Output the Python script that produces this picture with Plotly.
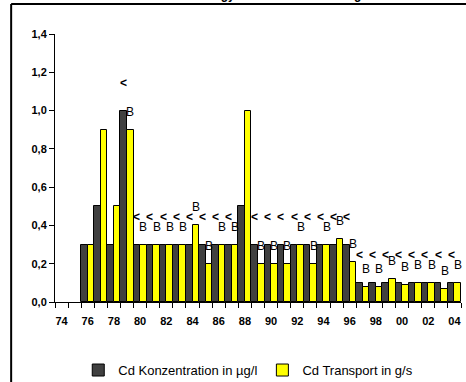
import plotly.graph_objects as go

# ---- data ----
years = list(range(1974, 2005))
year_labels = ["74", "76", "78", "80", "82", "84", "86", "88", "90", "92", "94", "96", "98", "00", "02", "04"]
label_years = list(range(1974, 2005, 2))

conc = [None, None, 0.3, 0.5, 0.3, 1.0, 0.3, 0.3, 0.3, 0.3, 0.3, 0.3, 0.3, 0.3, 0.5,
        0.3, 0.3, 0.3, 0.3, 0.3, 0.3, 0.3, 0.3, 0.1, 0.1, 0.1, 0.1, 0.1, 0.1, 0.1, 0.1]
transport = [None, None, 0.3, 0.9, 0.5, 0.9, 0.3, 0.3, 0.3, 0.3, 0.4, 0.2, 0.3, 0.3, 1.0,
             0.2, 0.2, 0.2, 0.3, 0.2, 0.3, 0.33, 0.21, 0.08, 0.08, 0.12, 0.09, 0.1, 0.1, 0.07, 0.1]
conc_flags = ["", "", "", "", "", "<", "<", "<", "<", "<", "<", "<", "<", "<", "",
              "<", "<", "<", "<", "<", "<", "<", "<", "<", "<", "<", "<", "<", "<", "<", "<"]
transport_flags = ["", "", "", "", "", "B", "B", "B", "B", "B", "B", "B", "B", "B", "",
                   "B", "B", "B", "B", "B", "B", "B", "B", "B", "B", "B", "B", "B", "B", "B", "B"]

series_names = ["Cd Konzentration in µg/l", "Cd Transport in g/s"]
title_text = "Donau bei Nagymaros – Cd Belastung"

FONT = "Liberation Sans, Arial, sans-serif"

fig = go.Figure()
fig.add_trace(go.Bar(x=years, y=conc, name=series_names[0],
                     marker=dict(color="#404040", line=dict(color="black", width=1))))
fig.add_trace(go.Bar(x=years, y=transport, name=series_names[1],
                     marker=dict(color="#FFFF00", line=dict(color="black", width=1))))

annotations = []
for yr, v, f in zip(years, conc, conc_flags):
    if f and v is not None:
        annotations.append(dict(x=yr - 0.25, y=v, xref="x", yref="y", text=f, showarrow=False,
                                yanchor="middle", yshift=28,
                                font=dict(family=FONT, size=12, color="black", weight="bold")))
for yr, v, f in zip(years, transport, transport_flags):
    if f and v is not None:
        annotations.append(dict(x=yr + 0.25, y=v, xref="x", yref="y", text=f, showarrow=False,
                                yanchor="middle", yshift=18,
                                font=dict(family=FONT, size=12, color="black")))

# title, almost entirely cut off at the top of the picture
annotations.append(dict(x=0.486, y=1.112, xref="paper", yref="paper", text="<b>" + title_text + "</b>",
                        showarrow=False, xanchor="center", yanchor="bottom",
                        font=dict(family=FONT, size=12, color="black")))

shapes = [
    dict(type="line", xref="paper", yref="paper", x0=-0.108, x1=1.05, y0=1.112, y1=1.112,
         line=dict(color="black", width=2)),
    dict(type="line", xref="paper", yref="paper", x0=-0.108, x1=-0.108, y0=1.112, y1=-0.4,
         line=dict(color="black", width=2)),
]

fig.update_layout(
    width=466, height=382,
    margin=dict(l=55, r=5, t=34, b=80, autoexpand=False),
    paper_bgcolor="white", plot_bgcolor="white",
    barmode="group", bargap=0, bargroupgap=0,
    separators=",.",
    font=dict(family=FONT, color="black"),
    showlegend=True,
    legend=dict(orientation="h", x=0.476, xanchor="center", y=-0.254, yanchor="middle",
                font=dict(family=FONT, size=13, color="black"), itemwidth=30,
                bgcolor="rgba(0,0,0,0)"),
    annotations=annotations,
    shapes=shapes,
)

fig.update_xaxes(
    range=[1973.5, 2004.5], showgrid=False, zeroline=False,
    showline=True, linecolor="black", linewidth=1,
    tickmode="array", tickvals=label_years, ticktext=year_labels,
    ticks="outside", ticklen=5, tickcolor="rgba(0,0,0,0)",
    ticklabelstandoff=4,
    tickfont=dict(family=FONT, size=11, color="black", weight="bold"),
    minor=dict(tickmode="linear", tick0=1973.5, dtick=1, ticks="outside", ticklen=5,
               tickcolor="black", tickwidth=1, showgrid=False),
)
fig.update_yaxes(
    range=[0, 1.4], showgrid=False, zeroline=False,
    showline=True, linecolor="black", linewidth=1,
    tickmode="linear", tick0=0, dtick=0.2, tickformat=".1f",
    ticks="outside", ticklen=5, tickcolor="black",
    tickfont=dict(family=FONT, size=11, color="black", weight="bold"),
)

fig.write_html("out.html", config={"displayModeBar": False},
               post_script="document.body.style.margin='0';document.body.style.padding='0';")
